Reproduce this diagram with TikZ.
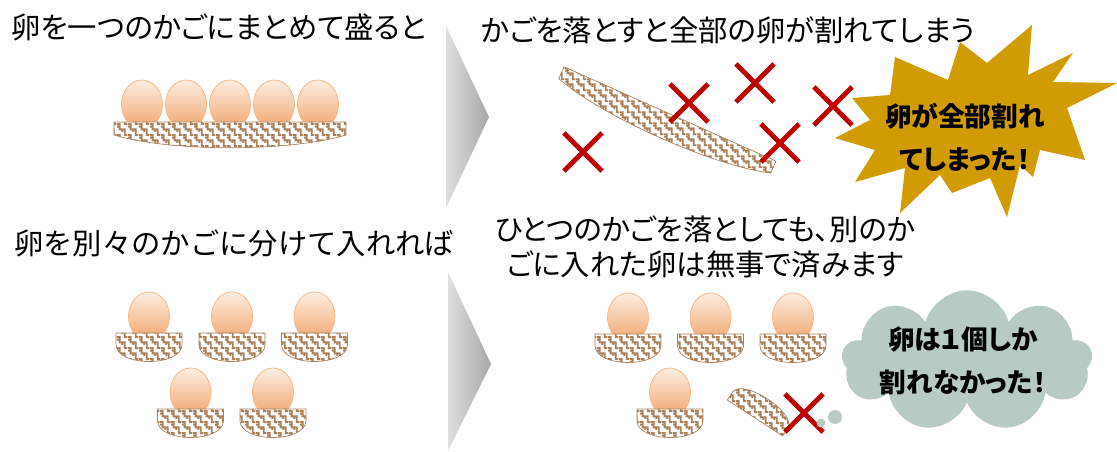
\documentclass[tikz,border=0pt]{standalone}
\usepackage{fontspec}
\setmainfont{Noto Sans CJK JP}[RawFeature=+palt]
\newfontfamily\fullkana{Noto Sans CJK JP}
\usetikzlibrary{positioning,shapes.misc,shapes.symbols,patterns.meta}
\definecolor{EggTop}{HTML}{FDEEE2}
\definecolor{EggBot}{HTML}{F0A56C}
\definecolor{EggLine}{HTML}{F6B98A}
\definecolor{Wicker}{HTML}{A8815A}
\definecolor{Crimson}{HTML}{C00000}
\definecolor{Gold}{HTML}{D09C02}
\definecolor{Sage}{HTML}{B8CBC3}

% wicker weave for the baskets
\tikzdeclarepattern{
  name=sayagata,
  type=uncolored,
  bottom left={(0pt,0pt)},
  top right={(8pt,8pt)},
  tile size={(8pt,8pt)},
  code={
    \draw[line width=1.4pt] (6pt,-2pt) -- (6pt,2pt) -- (2pt,2pt) -- (2pt,6pt) -- (0pt,6pt)
      (8pt,6pt) -- (6pt,6pt) -- (6pt,10pt)
      (4pt,2pt) -- (4pt,0pt) (2pt,4pt) -- (0pt,4pt);
  }
}

\tikzset{
  pics/bigbasket/.style={code={
    \path[basket] (-116,0) -- (116,0) -- (116,13) .. controls (60,30) and (-60,30) .. (-116,13) -- cycle;
  }},
  pics/emptybasket/.style={code={
    \path[basket] (-33,0) -- (33,0) -- (33,12) .. controls (32,34) and (-32,34) .. (-33,12) -- cycle;
  }},
  pics/nest/.style={code={
    \shade[egg] (0,-16.5) ellipse [x radius=20.5, y radius=24.5];
    \pic {emptybasket};
  }}
}

\begin{document}
\begin{tikzpicture}[x=0.75pt,y=-0.75pt,
  caption/.style={inner sep=0pt,font=\fontsize{22pt}{26pt}\selectfont},
  shout/.style={inner sep=0pt,align=center,font=\fontsize{20pt}{32pt}\selectfont\bfseries},
  egg/.style={draw=EggLine,line width=0.6pt,top color=EggTop,bottom color=EggBot},
  basket/.style={draw=Wicker,line width=0.5pt,preaction={fill=white},pattern=sayagata,pattern color=Wicker},
  miss/.style={cross out,draw=Crimson,line width=3.6pt,minimum size=25pt,inner sep=0pt},
  next/.style={left color=gray!25,right color=gray!70}]
\useasboundingbox (0,0) rectangle (1117,452);

% captions
\node[caption,anchor=west] (onebasket) at (11,27) {卵を一つのかごにまとめて盛ると};
\node[caption,anchor=west] (allbroken) at (481,30) {かごを落とすと全部の卵が割れてしまう};
\node[caption,anchor=west] (split) at (14,243) {\fullkana 卵を別々のかごに分けて入れれば};
\node[caption,align=center] (safe) at (705,247) {ひとつのかごを落としても、別のか\\ごに入れた卵は無事で済みます};

% arrows
\shade[next] (446,26) -- (489,117) -- (446,208) -- cycle;
\shade[next] (448,272) -- (491,364) -- (448,451) -- cycle;

% all eggs in one basket
\foreach \x in {142,186,230,274,318}
  \shade[egg] (\x,104.5) ellipse [x radius=20.5, y radius=24.5];
\pic at (230,122) {bigbasket};

% dropped
\pic[rotate=-24] at (670,114) {bigbasket};
\fill[Gold] (895,57) -- (948,80) -- (960,42) -- (987,63) -- (1032,25) -- (1028,75) -- (1073,53)
  -- (1053,82) -- (1117,83) -- (1067,108) -- (1085,160) -- (1040,150) -- (1033,177) -- (1020,165)
  -- (1007,217) -- (990,178) -- (952,193) -- (940,175) -- (900,213) -- (905,168) -- (855,182)
  -- (875,150) -- (835,138) -- (870,120) -- (852,98) -- (890,95) -- cycle;
\node[miss] (x1) at (583,152) {};
\node[miss] (x2) at (689,103) {};
\node[miss] (x3) at (755,83) {};
\node[miss] (x4) at (780,143) {};
\node[miss] (x5) at (833,106) {};
\node[shout] (boom) at (965,137) {卵が全部割れ\\てしまった！};

% one egg per basket
\foreach \x in {149,232,314.5} \pic at (\x,333) {nest};
\foreach \x in {190.5,273} \pic at (\x,409) {nest};
\foreach \x in {628,710.5,793} \pic at (\x,334) {nest};
\pic at (670,409) {nest};
\pic[rotate=147,yscale=0.8] at (755,418) {emptybasket};
\node[miss] (x6) at (804,413) {};

% thought bubble
\node[cloud,cloud puffs=9,cloud ignores aspect,fill=Sage,minimum width=188pt,minimum height=106pt,inner sep=0pt] (think) at (967,361) {};
\fill[Sage] (835,417) circle [radius=7];
\fill[Sage] (821,423) circle [radius=4.5];
\node[shout] (onlyone) at (963,361) {卵は１個しか\\割れなかった！};
\end{tikzpicture}
\end{document}
